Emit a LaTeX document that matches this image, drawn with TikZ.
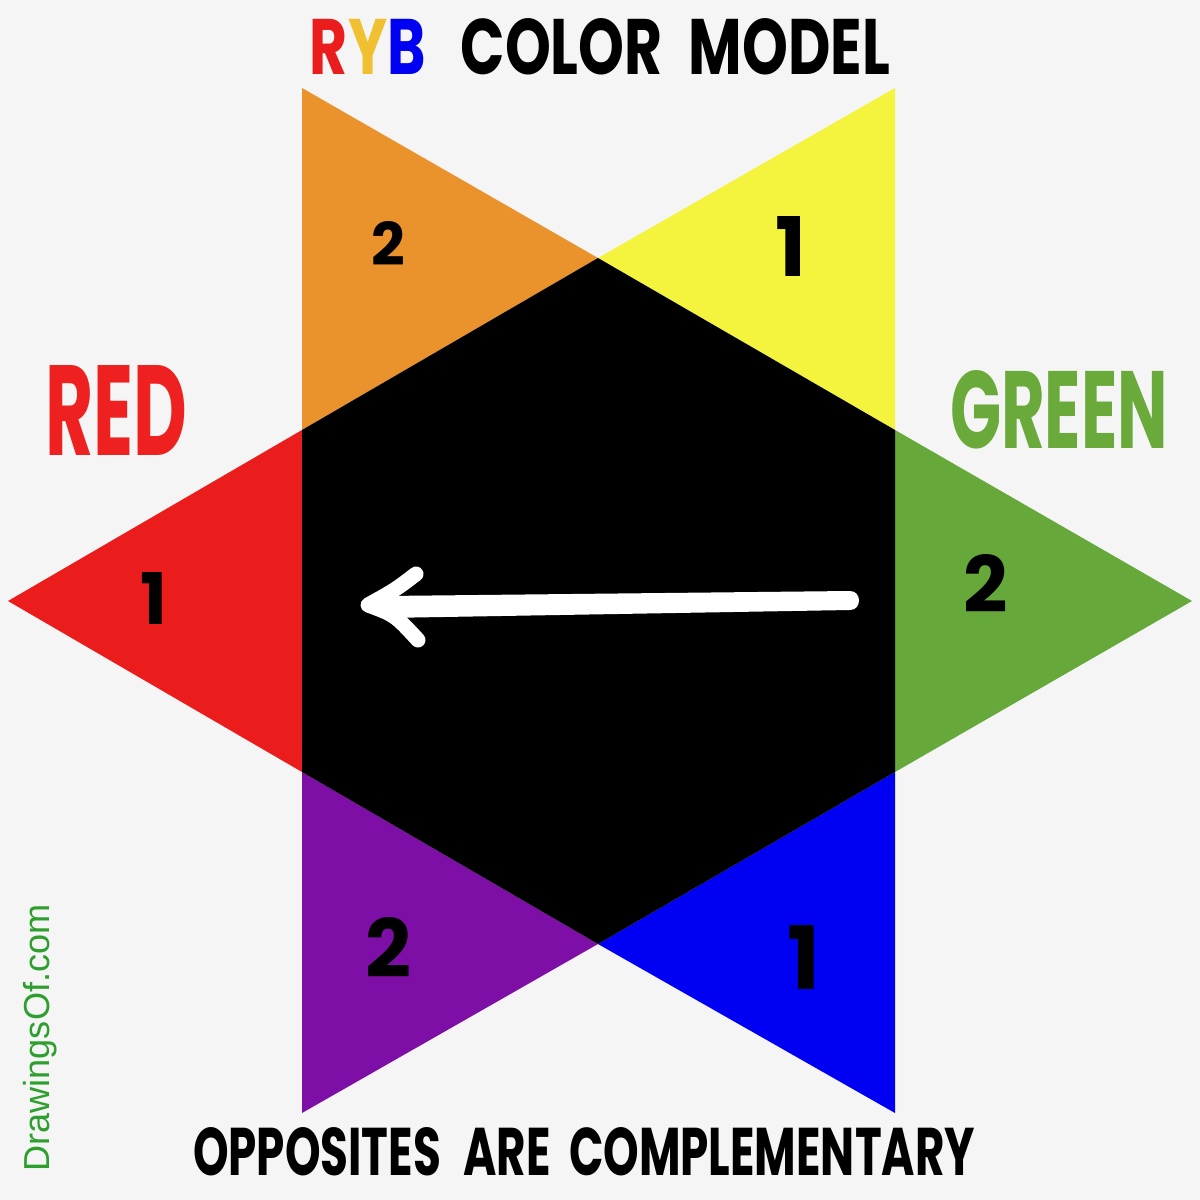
\documentclass[tikz,border=0pt]{standalone}
\usepackage{fontspec}
\setmainfont{Poppins}
\newfontfamily\webfont{Liberation Sans}
\usetikzlibrary{positioning, calc}

\definecolor{paper}{HTML}{F4F5F4}
\definecolor{ryborange}{HTML}{EA922C}
\definecolor{rybyellow}{HTML}{F4F43E}
\definecolor{rybgreen}{HTML}{66A83A}
\definecolor{rybblue}{HTML}{0000F2}
\definecolor{rybpurple}{HTML}{7D0EA6}
\definecolor{rybred}{HTML}{EB1C1C}
\definecolor{titleyellow}{HTML}{F0C030}
\definecolor{labelred}{HTML}{EE2020}
\definecolor{labelgreen}{HTML}{6AAA3A}
\definecolor{webgreen}{HTML}{2E9E2E}

\begin{document}
\begin{tikzpicture}[
        x=0.1mm, y=-0.1mm,
        hand/.style={inner sep=0pt, font=\bfseries},
        digit/.style={inner sep=0pt, font=\bfseries, text=black},
        barb/.style={white, line width=1.5mm, line cap=round, line join=round},
    ]
        % Paper
        \fill[paper] (0,0) rectangle (1200,1200);
        \useasboundingbox (0,0) rectangle (1200,1200);

        % Hexagon corners
        \coordinate (ht) at (598,258);
        \coordinate (htr) at (895,430);
        \coordinate (hbr) at (895,772);
        \coordinate (hb) at (598,944);
        \coordinate (hbl) at (302,772);
        \coordinate (htl) at (302,430);

        % Star points
        \coordinate (ptl) at (302,88);
        \coordinate (ptr) at (895,88);
        \coordinate (pr) at (1192,601);
        \coordinate (pbr) at (895,1113);
        \coordinate (pbl) at (302,1113);
        \coordinate (pl) at (8,601);

        % Triangles
        \foreach \a/\b/\c/\col in {ptl/ht/htl/ryborange, ptr/htr/ht/rybyellow,
                htr/pr/hbr/rybgreen, hbr/pbr/hb/rybblue,
                hbl/hb/pbl/rybpurple, htl/hbl/pl/rybred}
            \fill[\col] (\a) -- (\b) -- (\c) -- cycle;

        % Center
        \fill[black] (ht) -- (htr) -- (hbr) -- (hb) -- (hbl) -- (htl) -- cycle;

        % Numbers
        \node[digit] (norange) at (388,244) {\resizebox{!}{4.4mm}{2}};
        \node[digit] (nyellow) at (791,246) {\resizebox{!}{6.0mm}{1}};
        \node[digit] (nred) at (154,598) {\resizebox{!}{5.2mm}{1}};
        \node[digit] (ngreen) at (986,583) {\resizebox{!}{5.8mm}{2}};
        \node[digit] (npurple) at (388,947) {\resizebox{!}{6.0mm}{2}};
        \node[digit] (nblue) at (804,957) {\resizebox{!}{6.4mm}{1}};

        % Arrow
        \coordinate (tip) at (368,605);
        \fill[white] (385,596) -- (850,591)
            .. controls (862,591) and (862,610) .. (850,610) -- (385,618) -- cycle;
        \draw[barb] (416,574) .. controls (395,590) .. (tip) .. controls (395,615) .. (418,640);

        % Labels
        \node[hand] (title) at (600,47)
            {\resizebox{58mm}{5.6mm}{\textcolor{rybred}{R}\textcolor{titleyellow}{Y}\textcolor{rybblue}{B}\hspace{0.6em}COLOR\hspace{0.45em}MODEL}};
        \node[hand, text=labelred] (red) at (116,410) {\resizebox{14.2mm}{9.0mm}{RED}};
        \node[hand, text=labelgreen] (green) at (1059,410) {\resizebox{21.8mm}{7.8mm}{GREEN}};
        \node[hand] (bottom) at (584,1152)
            {\resizebox{78.2mm}{4.8mm}{OPPOSITES\hspace{0.5em}ARE\hspace{0.4em}COMPLEMENTARY}};
        \node[inner sep=0pt, rotate=90, text=webgreen] (web) at (40,1038)
            {\resizebox{26.7mm}{!}{\webfont DrawingsOf.com}};
\end{tikzpicture}
\end{document}
